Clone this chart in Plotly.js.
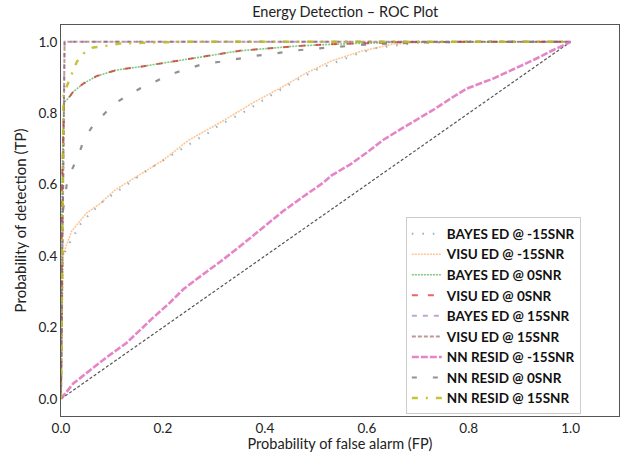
<!DOCTYPE html>
<html>
<head>
<meta charset="utf-8">
<script src="https://cdn.plot.ly/plotly-3.0.1.min.js"></script>
<style>html,body{margin:0;padding:0;background:#fff;}#chart{width:622px;height:452px;}</style>
</head>
<body>
<div id="chart"></div>
<script>
// ---- data ----
const seriesNames = [
  "BAYES ED @ -15SNR", "VISU ED @ -15SNR", "BAYES ED @ 0SNR", "VISU ED @ 0SNR",
  "BAYES ED @ 15SNR", "VISU ED @ 15SNR", "NN RESID @ -15SNR", "NN RESID @ 0SNR", "NN RESID @ 15SNR"
];

const bayesM15X = [0, 0.002, 0.01, 0.039, 0.054, 0.071, 0.086, 0.105, 0.123, 0.141, 0.16, 0.178, 0.198, 0.215, 0.234, 0.253, 0.272, 0.29, 0.309, 0.328, 0.348, 0.367, 0.405, 0.462, 0.502, 0.541, 0.583, 0.62, 0.7, 0.8, 1.0];
const bayesM15Y = [0, 0.38, 0.42, 0.491, 0.514, 0.536, 0.558, 0.575, 0.594, 0.612, 0.631, 0.648, 0.666, 0.682, 0.698, 0.715, 0.731, 0.746, 0.765, 0.78, 0.795, 0.81, 0.844, 0.892, 0.922, 0.944, 0.967, 0.983, 0.997, 1.0, 1.0];

const visuM15X = [0, 0.002, 0.004, 0.008, 0.021, 0.05, 0.077, 0.106, 0.15, 0.2, 0.25, 0.315, 0.38, 0.43, 0.475, 0.53, 0.59, 0.65, 0.7, 0.8, 0.9, 1.0];
const visuM15Y = [0, 0.3, 0.40, 0.42, 0.47, 0.52, 0.547, 0.585, 0.625, 0.668, 0.724, 0.776, 0.832, 0.87, 0.908, 0.946, 0.974, 0.993, 0.998, 1.0, 1.0, 1.0];

const bayes0X = [0, 0.002, 0.006, 0.014, 0.024, 0.044, 0.07, 0.109, 0.155, 0.22, 0.286, 0.351, 0.41, 0.462, 0.53, 0.593, 0.67, 0.8, 1.0];
const bayes0Y = [0, 0.6, 0.83, 0.841, 0.86, 0.883, 0.904, 0.921, 0.93, 0.944, 0.96, 0.975, 0.982, 0.988, 0.993, 0.996, 0.999, 1.0, 1.0];

const visu0X = [0, 0.002, 0.006, 0.014, 0.024, 0.044, 0.07, 0.109, 0.155, 0.22, 0.286, 0.351, 0.41, 0.462, 0.53, 0.593, 0.67, 0.8, 1.0];
const visu0Y = [0, 0.6, 0.83, 0.841, 0.86, 0.883, 0.904, 0.921, 0.93, 0.944, 0.96, 0.975, 0.982, 0.988, 0.993, 0.996, 0.999, 1.0, 1.0];

const bayes15X = [0, 0.007, 1.0];
const bayes15Y = [0, 1.0, 1.0];

const visu15X = [0, 0.007, 1.0];
const visu15Y = [0, 1.0, 1.0];

const nnM15X = [0, 0.024, 0.057, 0.09, 0.129, 0.155, 0.178, 0.214, 0.24, 0.279, 0.318, 0.358, 0.397, 0.436, 0.475, 0.515, 0.531, 0.567, 0.606, 0.632, 0.665, 0.73, 0.77, 0.796, 0.848, 0.881, 0.927, 0.966, 1.0];
const nnM15Y = [0, 0.043, 0.08, 0.117, 0.157, 0.193, 0.224, 0.27, 0.307, 0.349, 0.39, 0.435, 0.481, 0.526, 0.566, 0.606, 0.626, 0.656, 0.696, 0.725, 0.754, 0.809, 0.846, 0.869, 0.897, 0.918, 0.949, 0.977, 1.0];

const nn0X = [0, 0.001, 0.011, 0.021, 0.034, 0.046, 0.062, 0.083, 0.103, 0.129, 0.155, 0.184, 0.211, 0.243, 0.277, 0.312, 0.348, 0.384, 0.42, 0.456, 0.492, 0.531, 0.567, 0.606, 0.7, 0.8, 1.0];
const nn0Y = [0, 0.5, 0.598, 0.64, 0.682, 0.729, 0.764, 0.795, 0.825, 0.848, 0.869, 0.888, 0.907, 0.922, 0.937, 0.944, 0.953, 0.961, 0.967, 0.975, 0.98, 0.984, 0.989, 0.993, 0.998, 1.0, 1.0];

const nn15X = [0, 0.005, 0.011, 0.021, 0.031, 0.044, 0.063, 0.096, 0.116, 0.16, 0.25, 1.0];
const nn15Y = [0, 0.85, 0.874, 0.911, 0.944, 0.967, 0.984, 0.99, 0.995, 0.997, 1.0, 1.0];

const chanceX = [0, 1];
const chanceY = [0, 1];

const xTicks = [0, 0.2, 0.4, 0.6, 0.8, 1.0];
const xTickText = ["0.0", "0.2", "0.4", "0.6", "0.8", "1.0"];
const yTicks = [0, 0.2, 0.4, 0.6, 0.8, 1.0];
const yTickText = ["0.0", "0.2", "0.4", "0.6", "0.8", "1.0"];

// ---- styles ----
const styles = [
  {color: "#1f77b4", dash: "1.5px,9px", width: 2, opacity: 0.55},
  {color: "#ff7f0e", dash: "2px,1px", width: 1.6, opacity: 0.45},
  {color: "#2ca02c", dash: "2px,1px", width: 1.6, opacity: 0.6},
  {color: "#d62728", dash: "6px,10px", width: 2, opacity: 0.7},
  {color: "#9467bd", dash: "5px,6px", width: 2, opacity: 0.6},
  {color: "#8c564b", dash: "4px,2px", width: 2, opacity: 0.6},
  {color: "#e377c2", dash: "7px,2px", width: 2.6, opacity: 0.9},
  {color: "#7f7f7f", dash: "5px,16px", width: 2.2, opacity: 0.85},
  {color: "#bcbd22", dash: "6px,8px,2px,8px", width: 2.4, opacity: 0.9}
];
const xs = [bayesM15X, visuM15X, bayes0X, visu0X, bayes15X, visu15X, nnM15X, nn0X, nn15X];
const ys = [bayesM15Y, visuM15Y, bayes0Y, visu0Y, bayes15Y, visu15Y, nnM15Y, nn0Y, nn15Y];

const traces = [{
  x: chanceX, y: chanceY, mode: "lines", showlegend: false, hoverinfo: "skip",
  line: {color: "#555555", dash: "3px,2px", width: 1.2}
}];
for (let i = 0; i < seriesNames.length; i++) {
  traces.push({
    x: xs[i], y: ys[i], name: seriesNames[i], mode: "lines", opacity: styles[i].opacity,
    line: {color: styles[i].color, dash: styles[i].dash, width: styles[i].width}
  });
}

const fam = "Lato, 'Open Sans', sans-serif";
const tickFont = {family: fam, size: 13.5, color: "#222"};
const layout = {
  width: 622, height: 452,
  margin: {l: 61, r: 3, t: 25, b: 36},
  paper_bgcolor: "#fff", plot_bgcolor: "#fff",
  title: {text: "Energy Detection – ROC Plot", x: 0.555, xanchor: "center", y: 1 - 12/452, yanchor: "middle",
          font: {family: fam, size: 14.5, color: "#222"}},
  xaxis: {
    range: [0, 1.0948], tickvals: xTicks, ticktext: xTickText, showgrid: false, zeroline: false,
    showline: true, mirror: true, linecolor: "#555", linewidth: 1, ticks: "",
    tickfont: tickFont,
    title: {text: "Probability of false alarm (FP)", standoff: 2, font: {family: fam, size: 14.5, color: "#222"}}
  },
  yaxis: {
    range: [-0.048, 1.047], tickvals: yTicks, ticktext: yTickText, showgrid: false, zeroline: false,
    showline: true, mirror: true, linecolor: "#555", linewidth: 1, ticks: "",
    tickfont: tickFont,
    title: {text: "Probability of detection (TP)", standoff: 8, font: {family: fam, size: 15, color: "#222"}}
  },
  legend: {
    x: 0.618, y: 0.508, xanchor: "left", yanchor: "top",
    bgcolor: "rgba(255,255,255,0.9)", bordercolor: "#cccccc", borderwidth: 1,
    font: {family: fam, size: 13.5, color: "#111", weight: "bold"},
    itemwidth: 30, tracegroupgap: 0, entrywidth: 190, entrywidthmode: "pixels"
  },
  showlegend: true
};

Plotly.newPlot("chart", traces, layout, {staticPlot: true, displayModeBar: false});
</script>
</body>
</html>
